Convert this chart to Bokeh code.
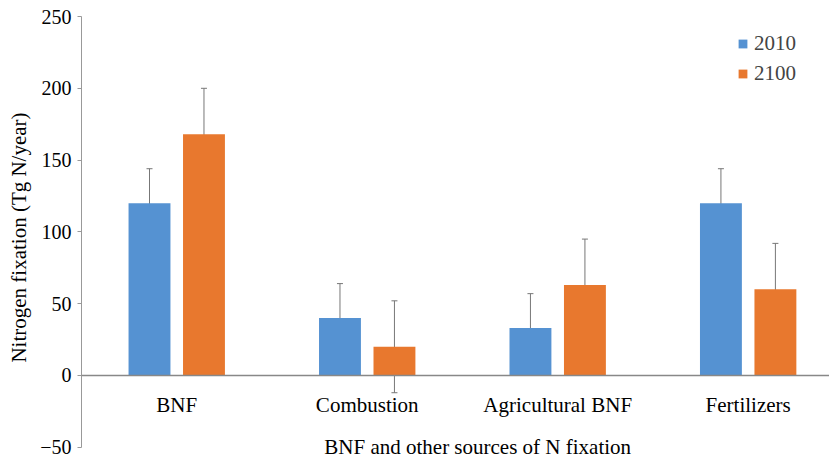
from bokeh.plotting import figure
from bokeh.models import (ColumnDataSource, Range1d, FixedTicker, Whisker, TeeHead,
                          Span, Label, Legend, LegendItem)
from bokeh.core.properties import value
from bokeh.embed import file_html
from bokeh.resources import INLINE

categories = ["BNF", "Combustion", "Agricultural BNF", "Fertilizers"]
series_names = ["2010", "2100"]
values_2010 = [120, 40, 33, 120]
values_2100 = [168, 20, 63, 60]
err_2010 = [24, 24, 24, 24]
err_2100 = [32, 32, 32, 32]
y_ticks = [-50, 0, 50, 100, 150, 200, 250]
colors = ["#5592D2", "#E8782E"]

FONT = "'Liberation Serif', 'Times New Roman', serif"

p = figure(width=829, height=458, output_backend="svg", toolbar_location=None,
           x_range=Range1d(-0.5, 3.427), y_range=Range1d(-57.8, 250),
           min_border_left=81, min_border_right=0, min_border_top=16, min_border_bottom=0)
p.outline_line_color = None
p.grid.visible = False
p.xaxis.visible = False

yax = p.yaxis[0]
yax.ticker = FixedTicker(ticks=y_ticks)
yax.bounds = (-50, 250)
yax.major_label_overrides = {t: (("\u2212" + str(-t)) if t < 0 else str(t)) for t in y_ticks}
yax.major_label_text_font = FONT
yax.major_label_text_font_size = "20px"
yax.major_label_text_color = "#000000"
yax.axis_line_color = "#999999"
yax.major_tick_line_color = "#999999"
yax.major_tick_out = 4
yax.major_tick_in = 0
yax.minor_tick_line_color = None
yax.major_label_standoff = 6
yax.axis_label = "Nitrogen fixation (Tg N/year)"
yax.axis_label_text_font = FONT
yax.axis_label_text_font_size = "21px"
yax.axis_label_text_font_style = "normal"
yax.axis_label_text_color = "#000000"
yax.axis_label_standoff = 6

idx = list(range(len(categories)))
offs = [-0.143, 0.143]
renderers = []
for k, (vals, errs) in enumerate([(values_2010, err_2010), (values_2100, err_2100)]):
    xs = [i + offs[k] for i in idx]
    src = ColumnDataSource(dict(x=xs, top=vals,
                                upper=[v + e for v, e in zip(vals, errs)],
                                lower=[v - e for v, e in zip(vals, errs)]))
    r = p.vbar(x="x", top="top", bottom=0, width=0.22, source=src,
               fill_color=colors[k], line_color=None)
    renderers.append(r)
    w = Whisker(base="x", upper="upper", lower="lower", source=src,
                line_color="#777777", line_width=1,
                upper_head=TeeHead(size=6, line_color="#777777", line_width=1),
                lower_head=TeeHead(size=6, line_color="#777777", line_width=1))
    p.add_layout(w)

p.add_layout(Span(location=0, dimension="width", line_color="#888888", line_width=1.5))

cat_src = ColumnDataSource(dict(x=idx, y=[0] * len(idx), t=categories))
p.text(x="x", y="y", text="t", source=cat_src, y_offset=30,
       text_font=value(FONT), text_font_size="21px", text_color="#000000",
       text_align="center", text_baseline="middle")

p.add_layout(Label(x=1.58, y=-50, text="BNF and other sources of N fixation",
                   text_font=FONT, text_font_size="21px", text_color="#000000",
                   text_align="center", text_baseline="middle"))

legend = Legend(items=[LegendItem(label=series_names[k], renderers=[renderers[k]]) for k in range(2)],
                location=(656, 370), padding=0, margin=0, spacing=0,
                glyph_width=11, glyph_height=11, label_height=30, label_standoff=6,
                label_text_font=FONT, label_text_font_size="21px",
                border_line_color=None, background_fill_alpha=0)
p.add_layout(legend)

open("out.html", "w").write(file_html(p, INLINE))
